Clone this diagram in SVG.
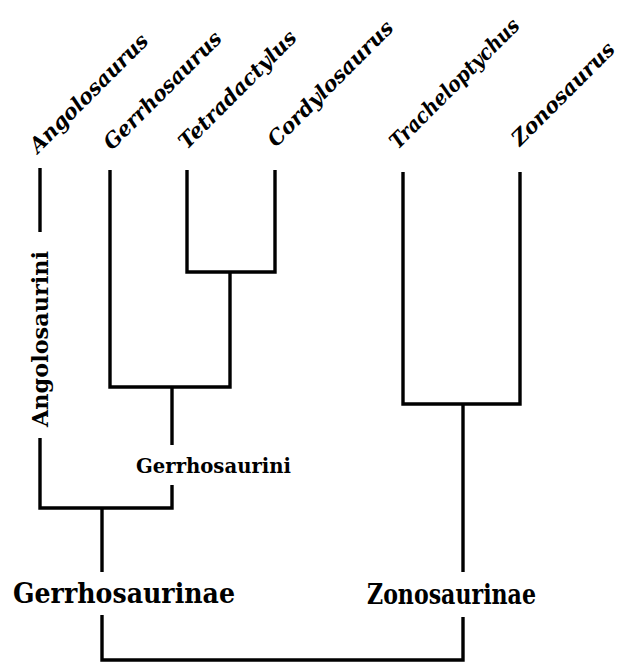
<svg xmlns="http://www.w3.org/2000/svg" width="629" height="663" viewBox="0 0 629 663">
<style>
.br{fill:none;stroke:#000;stroke-width:3.4;stroke-linecap:butt;stroke-linejoin:miter}
.tx{font-family:"DejaVu Serif","Liberation Serif",serif;font-weight:bold;font-style:italic;font-size:21px;fill:#000}
.cl{font-family:"DejaVu Serif","Liberation Serif",serif;font-weight:bold;fill:#000}
</style>
<rect width="629" height="663" fill="#fff"/>
<g id="connectors">
<path class="br" d="M40,168V232"/>
<path class="br" d="M40,438V508H172V485"/>
<path class="br" d="M172,445V387"/>
<path class="br" d="M110,170V387H230V272"/>
<path class="br" d="M187,170V272H275V170"/>
<path class="br" d="M102,508V572"/>
<path class="br" d="M102,615V660H463V617"/>
<path class="br" d="M463,572V404"/>
<path class="br" d="M403,172V404H520V172"/>
</g>
<g id="taxon-angolosaurus"><text class="tx" x="38" y="154" transform="rotate(-45 38 154)" textLength="158" lengthAdjust="spacingAndGlyphs">Angolosaurus</text></g>
<g id="taxon-gerrhosaurus"><text class="tx" x="112" y="151" transform="rotate(-45 112 151)" textLength="157" lengthAdjust="spacingAndGlyphs">Gerrhosaurus</text></g>
<g id="taxon-tetradactylus"><text class="tx" x="187" y="150" transform="rotate(-45 187 150)" textLength="157" lengthAdjust="spacingAndGlyphs">Tetradactylus</text></g>
<g id="taxon-cordylosaurus"><text class="tx" x="276" y="148" transform="rotate(-45 276 148)" textLength="168" lengthAdjust="spacingAndGlyphs">Cordylosaurus</text></g>
<g id="taxon-tracheloptychus"><text class="tx" x="398" y="150" font-size="20" transform="rotate(-45 398 150)" textLength="174" lengthAdjust="spacingAndGlyphs">Tracheloptychus</text></g>
<g id="taxon-zonosaurus"><text class="tx" x="520" y="147" transform="rotate(-45 520 147)" textLength="136" lengthAdjust="spacingAndGlyphs">Zonosaurus</text></g>
<g id="clade-angolosaurini"><text class="cl" x="48" y="339" font-size="23" text-anchor="middle" transform="rotate(-90 48 339)" textLength="176" lengthAdjust="spacingAndGlyphs">Angolosaurini</text></g>
<g id="clade-gerrhosaurini"><text class="cl" x="136" y="473" font-size="21" textLength="155" lengthAdjust="spacingAndGlyphs">Gerrhosaurini</text></g>
<g id="clade-gerrhosaurinae"><text class="cl" x="13" y="603" font-size="27" textLength="222" lengthAdjust="spacingAndGlyphs">Gerrhosaurinae</text></g>
<g id="clade-zonosaurinae"><text class="cl" x="367" y="604" font-size="27" textLength="169" lengthAdjust="spacingAndGlyphs">Zonosaurinae</text></g>
</svg>
